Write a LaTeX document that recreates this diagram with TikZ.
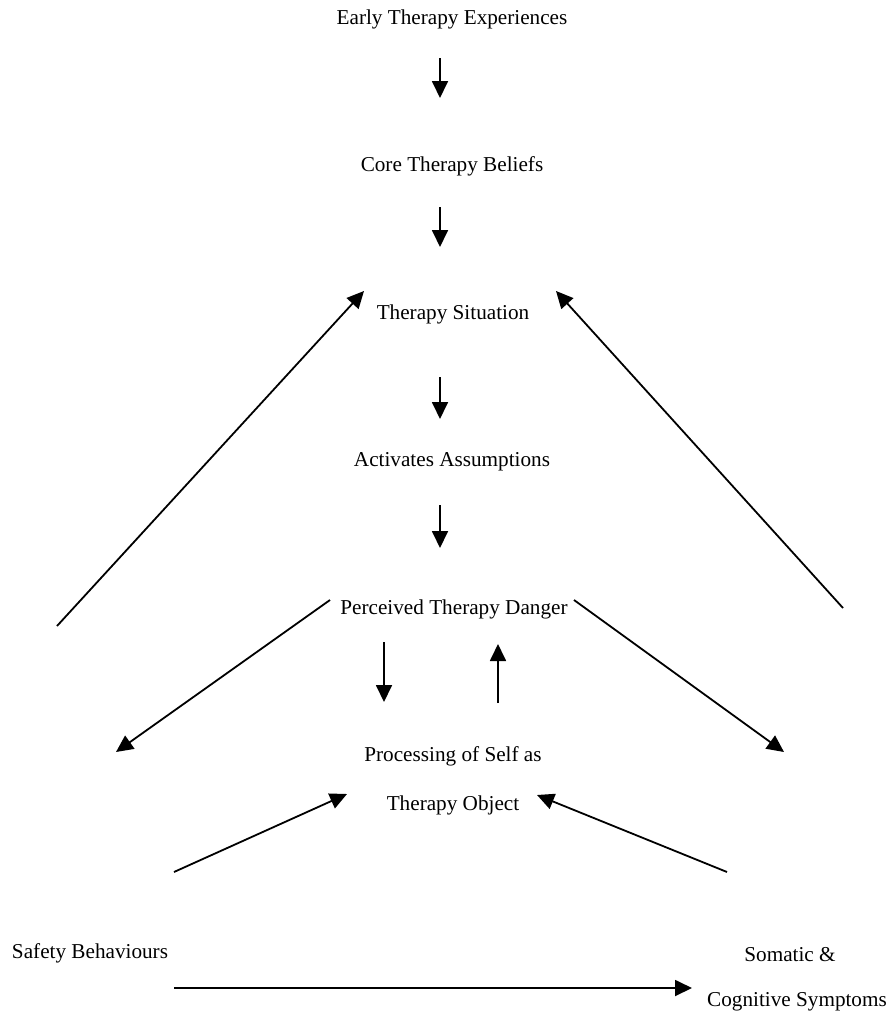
\documentclass[tikz,border=0pt]{standalone}
\usepackage{fontspec}
\setmainfont{Liberation Serif}
\usetikzlibrary{arrows.meta}
\begin{document}
\begin{tikzpicture}[x=1pt,y=-1pt,
  lbl/.style={inner sep=0pt, font=\fontsize{21.2}{24}\selectfont, anchor=center},
  conn/.style={line width=1.8pt, -{Triangle[length=17pt,width=16pt]}}]
\useasboundingbox (0,0) rectangle (893,1013);
% labels
\node[lbl] (early) at (452,19) {Early Therapy Experiences};
\node[lbl] (core) at (452,166) {Core Therapy Beliefs};
\node[lbl] (sit) at (453,314) {Therapy Situation};
\node[lbl] (act) at (452,462) {Activates Assumptions};
\node[lbl] (danger) at (454,609) {Perceived Therapy Danger};
\node[lbl] (proc1) at (453,756) {Processing of Self as};
\node[lbl] (proc2) at (453,805) {Therapy Object};
\node[lbl] (safety) at (90,953) {Safety Behaviours};
\node[lbl] (som1) at (790,955) {Somatic \&};
\node[lbl] (som2) at (797,1002) {Cognitive Symptoms};
% connector ends
\coordinate (a1s) at (440,58);  \coordinate (a1e) at (440,98);
\coordinate (a2s) at (440,207); \coordinate (a2e) at (440,247);
\coordinate (a3s) at (440,377); \coordinate (a3e) at (440,419);
\coordinate (a4s) at (440,505); \coordinate (a4e) at (440,548);
\coordinate (dds) at (384,642); \coordinate (dde) at (384,702);
\coordinate (ups) at (498,703); \coordinate (upe) at (498,644);
\coordinate (lls) at (57,626);  \coordinate (lle) at (364,291);
\coordinate (rrs) at (843,608); \coordinate (rre) at (556,291);
\coordinate (dls) at (330,600); \coordinate (dle) at (116,752);
\coordinate (drs) at (574,600); \coordinate (dre) at (784,752);
\coordinate (bls) at (174,872); \coordinate (ble) at (347,794);
\coordinate (brs) at (727,872); \coordinate (bre) at (537,795);
\coordinate (hs) at (174,988);  \coordinate (he) at (692,988);
% connectors
\draw[conn] (a1s) -- (a1e);
\draw[conn] (a2s) -- (a2e);
\draw[conn] (a3s) -- (a3e);
\draw[conn] (a4s) -- (a4e);
\draw[conn] (dds) -- (dde);
\draw[conn] (ups) -- (upe);
\draw[conn] (lls) -- (lle);
\draw[conn] (rrs) -- (rre);
\draw[conn] (dls) -- (dle);
\draw[conn] (drs) -- (dre);
\draw[conn] (bls) -- (ble);
\draw[conn] (brs) -- (bre);
\draw[conn] (hs) -- (he);
\end{tikzpicture}
\end{document}
